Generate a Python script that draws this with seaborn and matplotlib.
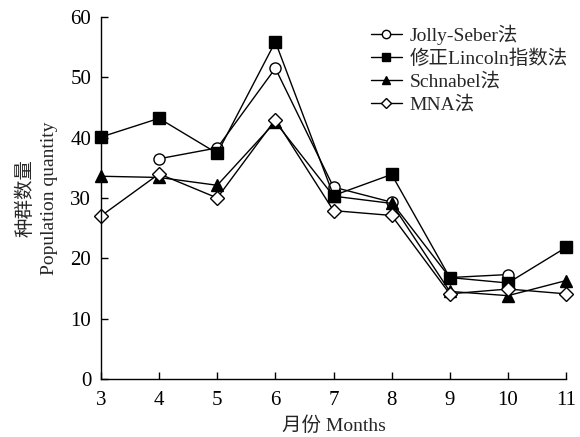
import matplotlib
matplotlib.use("Agg")
import matplotlib.pyplot as plt
import seaborn as sns
import pandas as pd
import numpy as np

months = [3, 4, 5, 6, 7, 8, 9, 10, 11]
jolly_seber = [np.nan, 36.5, 38.3, 51.5, 31.8, 29.3, 16.8, 17.3, np.nan]
lincoln = [40.1, 43.2, 37.4, 55.9, 30.4, 33.9, 16.8, 15.9, 21.8]
schnabel = [33.6, 33.4, 32.1, 42.6, 30.3, 29.1, 14.5, 13.8, 16.3]
mna = [27.0, 34.0, 30.0, 43.0, 27.9, 27.1, 14.1, 14.9, 14.1]
series_names = ["Jolly-Seber法", "修正Lincoln指数法", "Schnabel法", "MNA法"]
xticks = [3, 4, 5, 6, 7, 8, 9, 10, 11]
yticks = [0, 10, 20, 30, 40, 50, 60]

sns.set_style("ticks")
fam = ["Liberation Serif", "Noto Sans CJK SC"]
plt.rcParams["font.family"] = fam

fig = plt.figure(figsize=(5.8, 4.37), dpi=100)
ax = fig.add_axes([0.174, 0.133, 0.802, 0.828])

rows = []
for name, vals in zip(series_names, [jolly_seber, lincoln, schnabel, mna]):
    for m, v in zip(months, vals):
        rows.append({"month": m, "value": v, "method": name})
df = pd.DataFrame(rows)

styles = {
    "Jolly-Seber法": dict(marker="o", mfc="white", ms=8),
    "修正Lincoln指数法": dict(marker="s", mfc="black", ms=8),
    "Schnabel法": dict(marker="^", mfc="black", ms=8.5),
    "MNA法": dict(marker="D", mfc="white", ms=6.8),
}
for name in series_names:
    sub = df[df["method"] == name].dropna()
    st = styles[name]
    sns.lineplot(data=sub, x="month", y="value", ax=ax, color="black", lw=1.0,
                 marker=st["marker"], markerfacecolor=st["mfc"], markeredgecolor="black",
                 markeredgewidth=1.0, markersize=st["ms"], label=name, clip_on=False)

ax.set_xlim(3, 11)
ax.set_ylim(0, 60)
ax.set_xticks(xticks)
ax.set_yticks(yticks)
ax.tick_params(direction="in", length=5, width=1, labelsize=15, colors="black")
ax.tick_params(axis="x", pad=9)
ax.tick_params(axis="y", pad=7)
for lbl in ax.get_xticklabels() + ax.get_yticklabels():
    lbl.set_family(fam)
for s in ["top", "right"]:
    ax.spines[s].set_visible(False)
for s in ["left", "bottom"]:
    ax.spines[s].set_linewidth(1.0)
    ax.spines[s].set_color("black")
ax.set_xlabel("月份 Months", fontsize=14, family=fam, labelpad=4)
ax.set_ylabel("种群数量\nPopulation quantity", fontsize=14, family=fam, labelpad=9, linespacing=1.45)

leg = ax.legend(loc="upper right", bbox_to_anchor=(1.004, 0.98), frameon=False,
                handlelength=1.6, handletextpad=0.4, labelspacing=0.25, borderaxespad=0,
                borderpad=0, markerscale=0.75, prop={"family": fam, "size": 14})
fig.savefig("out.png", dpi=100)
